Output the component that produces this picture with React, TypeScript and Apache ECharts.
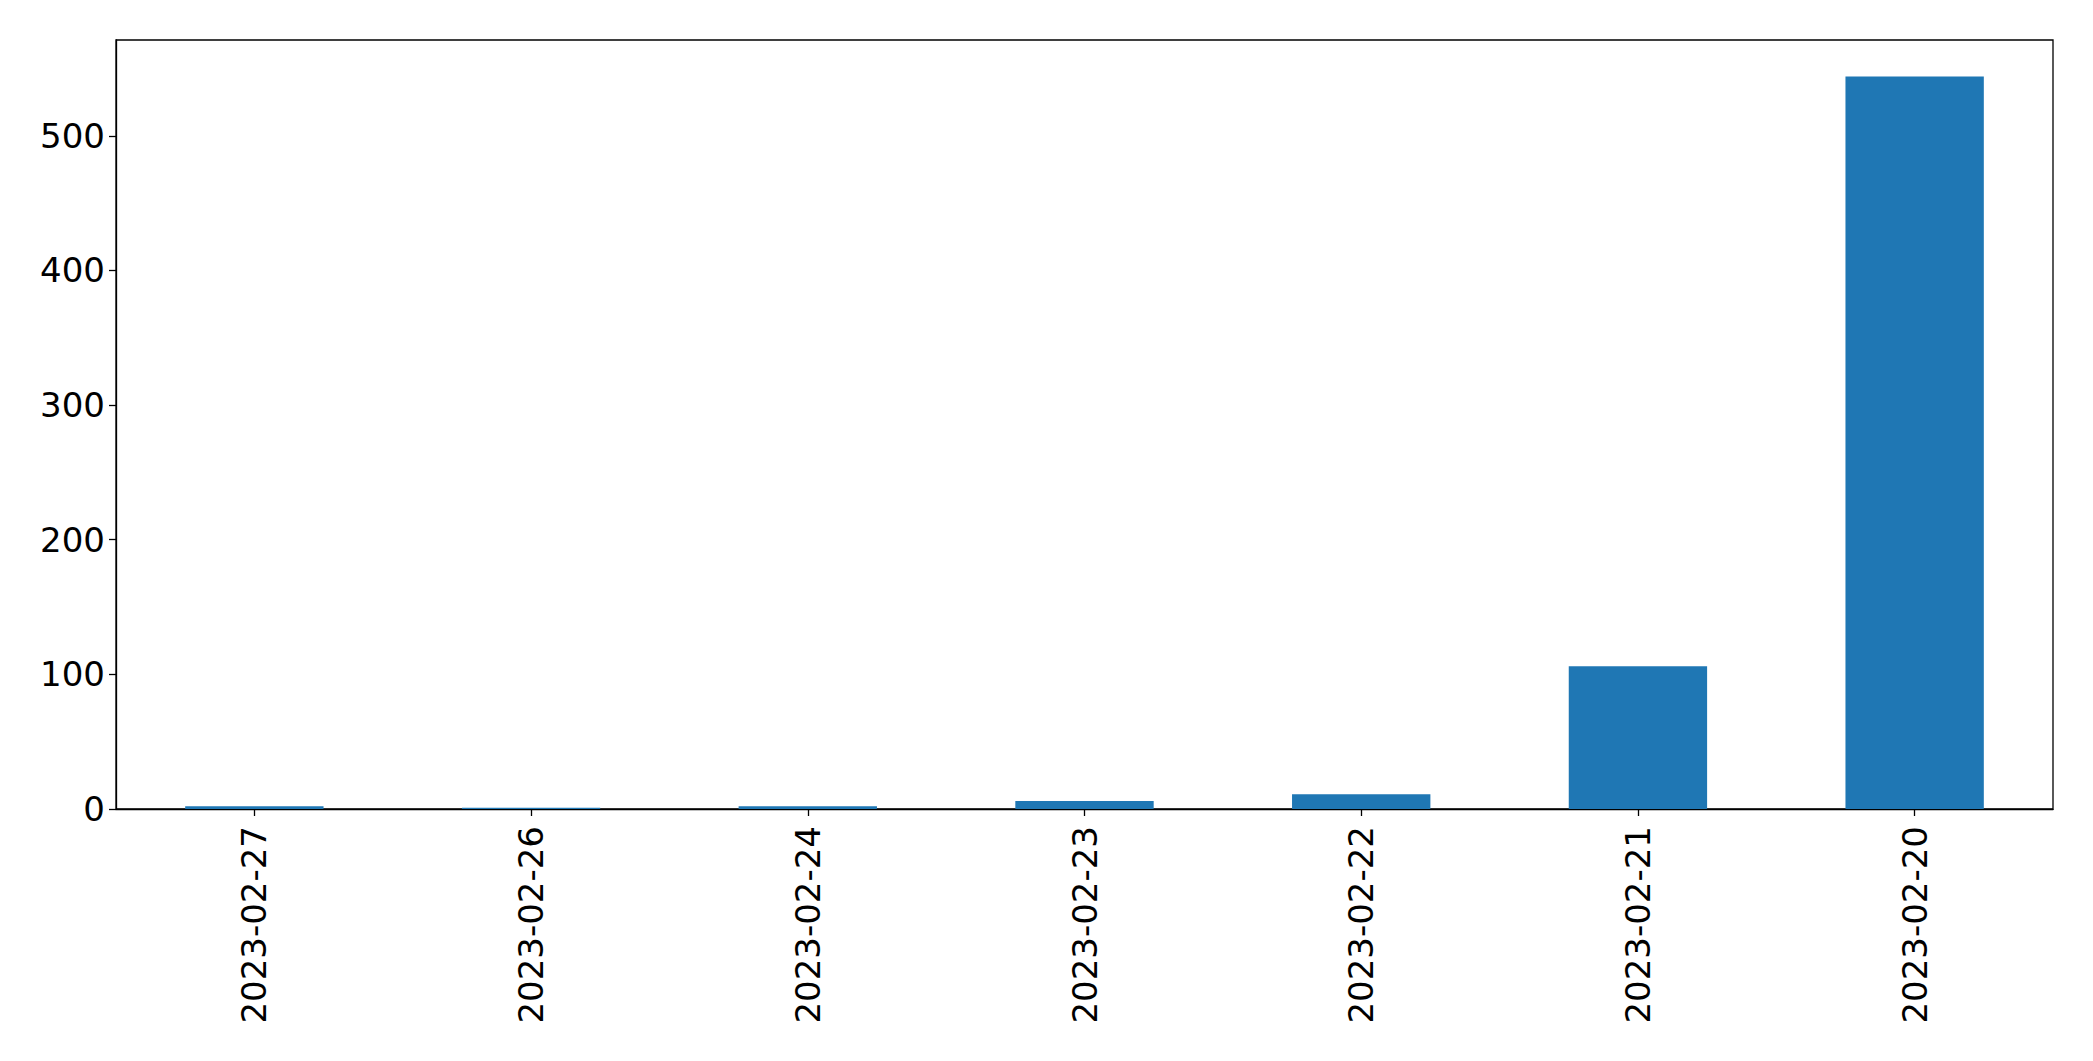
import React, { useEffect, useRef } from "react";
import * as echarts from "echarts";

const categories = ["2023-02-27", "2023-02-26", "2023-02-24", "2023-02-23", "2023-02-22", "2023-02-21", "2023-02-20"];
const values = [2, 1, 2, 6, 11, 106, 544];
const yMax = 571.2;
const yInterval = 100;

export default function App() {
  const ref = useRef<HTMLDivElement>(null);
  useEffect(() => {
    if (!ref.current) return;
    const chart = echarts.init(ref.current, null, { renderer: "svg" });
    const font = "DejaVu Sans";
    chart.setOption({
      animation: false,
      backgroundColor: "#ffffff",
      grid: {
        left: 116,
        top: 40,
        right: 40,
        bottom: 252,
        show: true,
        borderColor: "#000000",
        borderWidth: 1.3,
        backgroundColor: "transparent",
      },
      xAxis: {
        type: "category",
        data: categories,
        boundaryGap: true,
        axisLine: { show: true, lineStyle: { color: "#000000", width: 1.3 } },
        axisTick: { show: true, alignWithLabel: true, length: 7, lineStyle: { color: "#000000", width: 1.3 } },
        axisLabel: {
          rotate: 90,
          margin: 17,
          fontSize: 34,
          fontFamily: font,
          color: "#000000",
          interval: 0,
        },
        splitLine: { show: false },
      },
      yAxis: {
        type: "value",
        min: 0,
        max: yMax,
        interval: yInterval,
        axisLine: { show: true, lineStyle: { color: "#000000", width: 1.3 } },
        axisTick: { show: true, length: 7, lineStyle: { color: "#000000", width: 1.3 } },
        axisLabel: {
          margin: 11,
          fontSize: 34,
          fontFamily: font,
          color: "#000000",
          showMaxLabel: false,
        },
        splitLine: { show: false },
      },
      series: [
        {
          type: "bar",
          data: values,
          barWidth: "50%",
          itemStyle: { color: "#1f77b4" },
        },
      ],
    });
    return () => chart.dispose();
  }, []);
  return (
    <div
      ref={ref}
      style={{ position: "fixed", left: 0, top: 0, width: 2093, height: 1061, background: "#ffffff" }}
    />
  );
}
